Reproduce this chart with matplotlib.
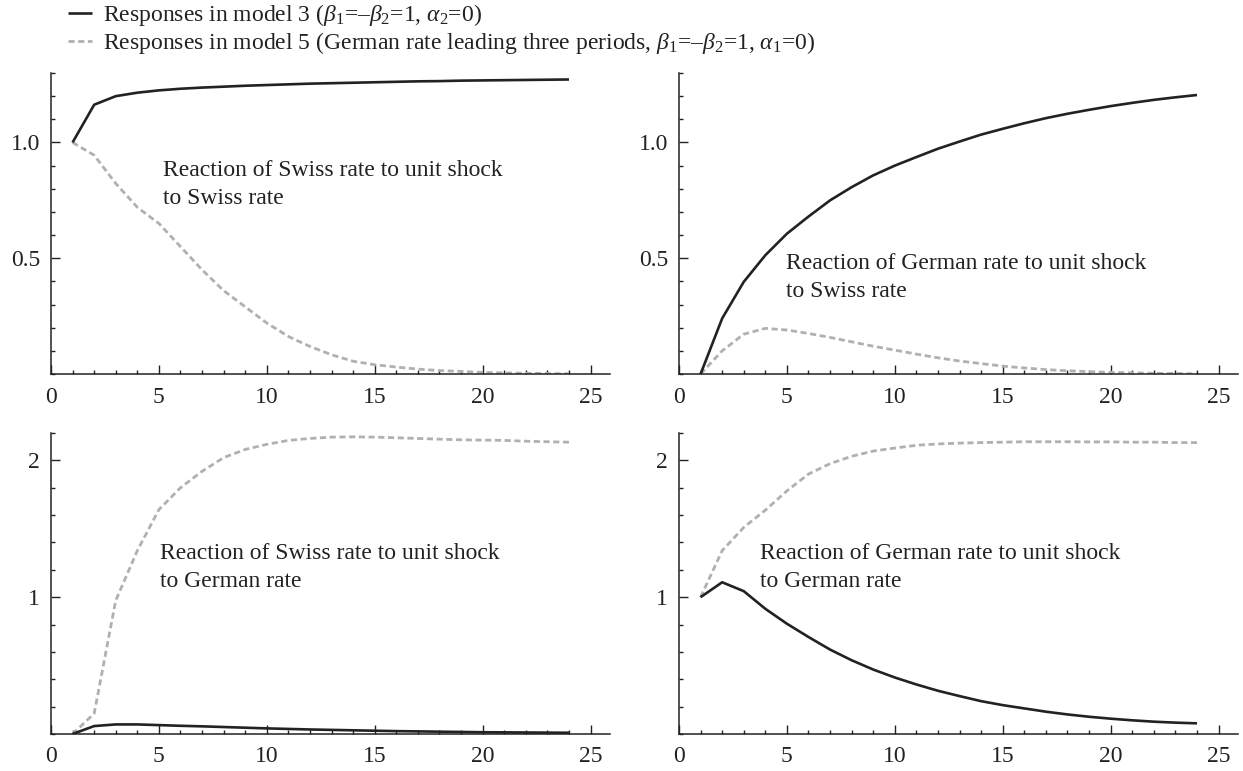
import numpy as np
import matplotlib
matplotlib.use("Agg")
import matplotlib.pyplot as plt
from matplotlib.ticker import MultipleLocator

plt.rcParams["font.family"] = ["Liberation Serif", "DejaVu Serif"]
plt.rcParams["mathtext.fontset"] = "custom"
plt.rcParams["mathtext.rm"] = "Liberation Serif"
plt.rcParams["mathtext.it"] = "Liberation Serif:italic"

# ---- data (periods 1..24) -------------------------------------------------
periods = list(range(1, 25))

swiss_to_swiss_m3 = [1.000, 1.163, 1.200, 1.215, 1.225, 1.232, 1.237, 1.241, 1.245, 1.248, 1.251, 1.254,
                     1.256, 1.258, 1.260, 1.262, 1.264, 1.265, 1.267, 1.268, 1.269, 1.270, 1.271, 1.272]
swiss_to_swiss_m5 = [1.000, 0.945, 0.823, 0.720, 0.650, 0.550, 0.450, 0.360, 0.290, 0.220, 0.162, 0.119,
                     0.083, 0.055, 0.040, 0.030, 0.021, 0.015, 0.011, 0.007, 0.005, 0.003, 0.002, 0.001]

german_to_swiss_m3 = [0.000, 0.240, 0.398, 0.513, 0.606, 0.680, 0.750, 0.807, 0.858, 0.900, 0.937, 0.973,
                      1.004, 1.034, 1.059, 1.083, 1.105, 1.124, 1.141, 1.157, 1.171, 1.184, 1.195, 1.205]
german_to_swiss_m5 = [0.000, 0.100, 0.172, 0.197, 0.190, 0.175, 0.158, 0.139, 0.120, 0.103, 0.086, 0.070,
                      0.056, 0.045, 0.034, 0.026, 0.019, 0.014, 0.010, 0.007, 0.005, 0.003, 0.002, 0.001]

swiss_to_german_m3 = [0.000, 0.058, 0.070, 0.070, 0.065, 0.060, 0.056, 0.051, 0.046, 0.041, 0.037, 0.033,
                      0.030, 0.027, 0.024, 0.021, 0.019, 0.017, 0.015, 0.013, 0.012, 0.011, 0.010, 0.009]
swiss_to_german_m5 = [0.000, 0.150, 0.976, 1.340, 1.640, 1.800, 1.920, 2.020, 2.080, 2.117, 2.146, 2.160,
                      2.170, 2.172, 2.170, 2.165, 2.160, 2.155, 2.150, 2.148, 2.146, 2.140, 2.136, 2.133]

german_to_german_m3 = [1.000, 1.109, 1.044, 0.915, 0.806, 0.709, 0.617, 0.539, 0.471, 0.413, 0.362, 0.316,
                       0.277, 0.240, 0.211, 0.187, 0.163, 0.143, 0.126, 0.112, 0.100, 0.090, 0.083, 0.078]
german_to_german_m5 = [1.000, 1.340, 1.510, 1.636, 1.777, 1.900, 1.976, 2.030, 2.068, 2.090, 2.110, 2.120,
                       2.126, 2.130, 2.133, 2.136, 2.136, 2.136, 2.135, 2.135, 2.133, 2.133, 2.130, 2.130]

panel_titles = ["Reaction of Swiss rate to unit shock\nto Swiss rate",
                "Reaction of German rate to unit shock\nto Swiss rate",
                "Reaction of Swiss rate to unit shock\nto German rate",
                "Reaction of German rate to unit shock\nto German rate"]

legend_labels = [r"Responses in model 3 ($\beta_1$=–$\beta_2$=1, $\alpha_2$=0)",
                 r"Responses in model 5 (German rate leading three periods, $\beta_1$=–$\beta_2$=1, $\alpha_1$=0)"]

DARK = "#222222"
GREY = "#b0b0b0"

# ---- layout ----------------------------------------------------------------
W, H = 1243, 771
fig = plt.figure(figsize=(W / 100, H / 100), dpi=100)

def px_axes(x0, y0, x1, y1):
    return fig.add_axes([x0 / W, 1 - y1 / H, (x1 - x0) / W, (y1 - y0) / H])

axes = [px_axes(51, 73, 610, 374), px_axes(679, 73, 1238, 374),
        px_axes(51, 433, 610, 734), px_axes(679, 433, 1238, 734)]

series = [(swiss_to_swiss_m3, swiss_to_swiss_m5),
          (german_to_swiss_m3, german_to_swiss_m5),
          (swiss_to_german_m3, swiss_to_german_m5),
          (german_to_german_m3, german_to_german_m5)]

text_pos = [(5.2, 0.817), (4.95, 0.416), (5.05, 1.215), (3.75, 1.215)]

for i, ax in enumerate(axes):
    m3, m5 = series[i]
    l5, = ax.plot(periods, m5, color=GREY, lw=2.0, dashes=(2.2, 1.3), zorder=2)
    l3, = ax.plot(periods, m3, color=DARK, lw=1.9, zorder=3, solid_capstyle="butt")
    ax.set_xlim(0, 25.9)
    ax.xaxis.set_major_locator(MultipleLocator(5))
    ax.xaxis.set_minor_locator(MultipleLocator(1))
    if i < 2:
        ax.set_ylim(0, 1.3)
        ax.set_yticks([0.5, 1.0])
        ax.set_yticklabels(["0.5", "1.0"])
        ax.yaxis.set_minor_locator(MultipleLocator(0.1))
    else:
        ax.set_ylim(0, 2.2)
        ax.set_yticks([1, 2])
        ax.set_yticklabels(["1", "2"])
        ax.yaxis.set_minor_locator(MultipleLocator(0.2))
    for s in ["top", "right"]:
        ax.spines[s].set_visible(False)
    for s in ["left", "bottom"]:
        ax.spines[s].set_color(DARK)
        ax.spines[s].set_linewidth(1.1)
    ax.tick_params(which="major", direction="in", length=6.5, width=1.0, color=DARK,
                   labelsize=17, labelcolor=DARK)
    ax.tick_params(axis="x", which="major", pad=9)
    ax.tick_params(axis="y", which="major", pad=8)
    ax.tick_params(which="minor", direction="in", length=3.2, width=1.0, color=DARK)
    tx, ty = text_pos[i]
    ax.text(tx, ty, panel_titles[i], fontsize=17, color=DARK, ha="left", va="center",
            linespacing=1.45)

fig.legend([l3, l5], legend_labels, loc="upper left", bbox_to_anchor=(68 / W, 1 - 2 / H),
           frameon=False, fontsize=17, handlelength=1.0, handletextpad=0.5,
           labelspacing=0.1, borderaxespad=0, borderpad=0, labelcolor=DARK)

plt.savefig("out.png", dpi=100)
